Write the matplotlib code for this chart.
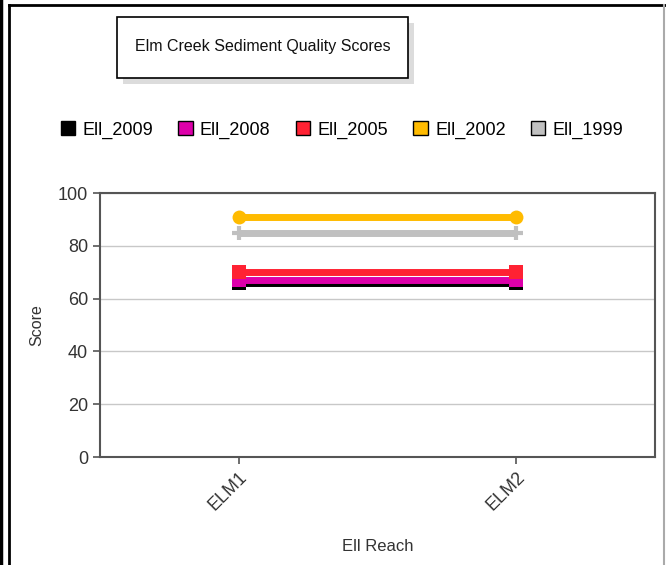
import matplotlib
matplotlib.use('Agg')
import matplotlib.pyplot as plt
from matplotlib.patches import Rectangle, Patch
from matplotlib.lines import Line2D

plt.rcParams['font.family'] = ['Liberation Sans', 'DejaVu Sans']

# ── Data ──────────────────────────────────────────────────────────────────────
reaches = ['ELM1', 'ELM2']
series = ['Ell_2009', 'Ell_2008', 'Ell_2005', 'Ell_2002', 'Ell_1999']
ell_2009 = [66, 66]
ell_2008 = [67, 67]
ell_2005 = [70, 70]
ell_2002 = [91, 91]
ell_1999 = [85, 85]
values = [ell_2009, ell_2008, ell_2005, ell_2002, ell_1999]
colors = ['#000000', '#dd00aa', '#ff2233', '#ffbb00', '#c0c0c0']
markers = ['s', 's', 's', 'o', '+']

W, H = 666, 565
fig = plt.figure(figsize=(W / 100, H / 100), dpi=100)
ax = fig.add_axes([100 / W, 1 - 457 / H, 555 / W, 264 / H])

x = list(range(len(reaches)))
for vals, c, m in zip(values, colors, markers):
    ax.plot(x, vals, color=c, linewidth=5, marker=m, markersize=10,
            markeredgewidth=3 if m == '+' else 0, markeredgecolor=c,
            solid_capstyle='butt', zorder=3)

ax.set_xlim(-0.5, 1.5)
ax.set_ylim(0, 100)
ax.set_yticks([0, 20, 40, 60, 80, 100])
ax.set_xticks(x)
ax.set_xticklabels(reaches, rotation=45, ha='right', rotation_mode='anchor')
ax.grid(axis='y', color='#c8c8c8', linewidth=1)
ax.set_axisbelow(True)
for s in ax.spines.values():
    s.set_color('#555555')
    s.set_linewidth(1.5)
ax.tick_params(colors='#555555', labelcolor='#333333', labelsize=13, length=5, width=1.2)
ax.set_ylabel('Score', fontsize=11.5, color='#333333', labelpad=10)
ax.set_xlabel('Ell Reach', fontsize=12, color='#333333', labelpad=18)

# ── Title box with shadow ─────────────────────────────────────────────────────
def px(x0, y0, w, h, **kw):
    return Rectangle((x0 / W, 1 - (y0 + h) / H), w / W, h / H,
                     transform=fig.transFigure, **kw)

fig.patches.append(px(123, 23, 291, 61, facecolor='#dcdcdc', edgecolor='none'))
fig.patches.append(px(117, 17, 291, 61, facecolor='white', edgecolor='black', linewidth=1.2))
fig.text(262.5 / W, 1 - 47 / H, 'Elm Creek Sediment Quality Scores',
         ha='center', va='center', fontsize=11.5, color='#111111')

# ── Legend ────────────────────────────────────────────────────────────────────
handles = [Patch(facecolor=c, edgecolor='black', linewidth=1, label=s)
           for s, c in zip(series, colors)]
fig.legend(handles=handles, loc='center', bbox_to_anchor=(342 / W, 1 - 130 / H),
           ncol=5, frameon=False, fontsize=13, handlelength=0.8, handleheight=0.8,
           handletextpad=0.4, columnspacing=1.4, borderpad=0)

# ── Outer frame lines ─────────────────────────────────────────────────────────
fig.add_artist(Line2D([1 / W, 1 / W], [0, 1], color='black', linewidth=2.5, transform=fig.transFigure))
fig.add_artist(Line2D([9 / W, 9 / W], [0, 1 - 5 / H], color='black', linewidth=2, transform=fig.transFigure))
fig.add_artist(Line2D([9 / W, 665 / W], [1 - 5 / H, 1 - 5 / H], color='black', linewidth=2, transform=fig.transFigure))
fig.add_artist(Line2D([664 / W, 664 / W], [0, 1 - 5 / H], color='#aaaaaa', linewidth=1.5, transform=fig.transFigure))

fig.savefig('out.png', dpi=100)
